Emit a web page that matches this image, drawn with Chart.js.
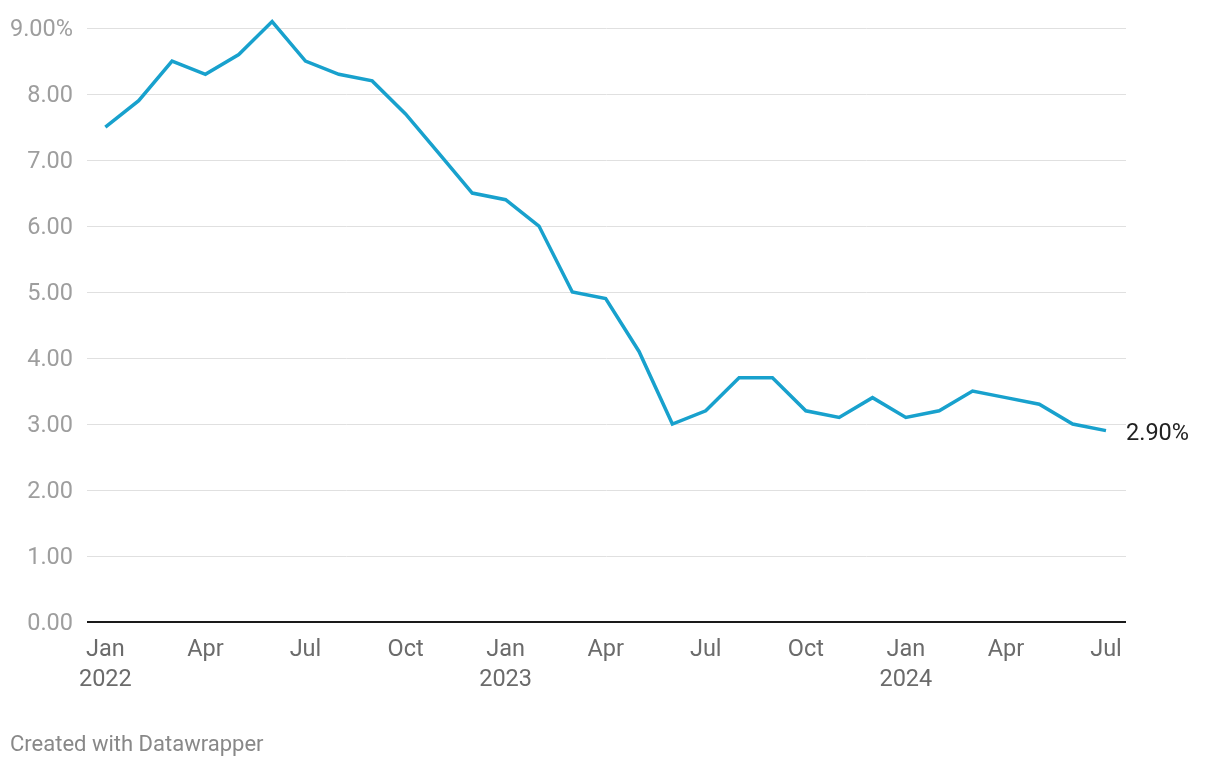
<!DOCTYPE html>
<html lang="en">
<head>
    <meta charset="UTF-8">
    <title>Inflation</title>
    <style>
        body { margin: 0; background: #fff; }
        .wrap { position: relative; width: 1220px; height: 768px; }
        .credit {
            position: absolute;
            left: 10px;
            top: 731px;
            font: 22px Roboto, sans-serif;
            color: #888;
        }
    </style>
</head>
<body>
    <div class="wrap">
        <canvas id="chart" width="1220" height="768"></canvas>
        <div class="credit">Created with Datawrapper</div>
    </div>
    <script src="https://cdn.jsdelivr.net/npm/chart.js"></script>
    <script>
        // monthly values, Jan 2022 - Jul 2024
        const months = [
            'Jan 2022', 'Feb 2022', 'Mar 2022', 'Apr 2022', 'May 2022', 'Jun 2022',
            'Jul 2022', 'Aug 2022', 'Sep 2022', 'Oct 2022', 'Nov 2022', 'Dec 2022',
            'Jan 2023', 'Feb 2023', 'Mar 2023', 'Apr 2023', 'May 2023', 'Jun 2023',
            'Jul 2023', 'Aug 2023', 'Sep 2023', 'Oct 2023', 'Nov 2023', 'Dec 2023',
            'Jan 2024', 'Feb 2024', 'Mar 2024', 'Apr 2024', 'May 2024', 'Jun 2024',
            'Jul 2024'
        ];
        const inflation = [
            7.5, 7.9, 8.5, 8.3, 8.6, 9.1, 8.5, 8.3, 8.2, 7.7, 7.1, 6.5,
            6.4, 6.0, 5.0, 4.9, 4.1, 3.0, 3.2, 3.7, 3.7, 3.2, 3.1, 3.4,
            3.1, 3.2, 3.5, 3.4, 3.3, 3.0, 2.9
        ];
        const xTickPos = [0, 3, 6, 9, 12, 15, 18, 21, 24, 27, 30];
        const xTickLabels = [
            ['Jan', '2022'], 'Apr', 'Jul', 'Oct',
            ['Jan', '2023'], 'Apr', 'Jul', 'Oct',
            ['Jan', '2024'], 'Apr', 'Jul'
        ];
        const yTicks = [0, 1, 2, 3, 4, 5, 6, 7, 8, 9];

        // label at the end of the line
        const endLabel = {
            id: 'endLabel',
            afterDatasetsDraw(chart) {
                const meta = chart.getDatasetMeta(0);
                const last = meta.data.length - 1;
                const pt = meta.data[last];
                const c = chart.ctx;
                c.save();
                c.font = '23.5px Roboto, sans-serif';
                c.fillStyle = '#222';
                c.textBaseline = 'middle';
                c.fillText(inflation[last].toFixed(2) + '%', pt.x + 20, pt.y + 3);
                c.restore();
            }
        };

        new Chart(document.getElementById('chart'), {
            type: 'line',
            data: {
                datasets: [{
                    label: 'Inflation',
                    data: inflation.map((v, i) => ({ x: i, y: v })),
                    borderColor: '#18a1cd',
                    borderWidth: 3.5,
                    pointRadius: 0,
                    tension: 0,
                    clip: false
                }]
            },
            options: {
                responsive: false,
                animation: false,
                layout: { padding: { top: 28, right: 94, bottom: 56, left: 0 } },
                plugins: {
                    legend: { display: false },
                    tooltip: { enabled: false }
                },
                scales: {
                    x: {
                        type: 'linear',
                        min: -0.55,
                        max: 30.6,
                        afterBuildTicks: s => { s.ticks = xTickPos.map(v => ({ value: v })); },
                        afterFit: s => { s.height = 90; },
                        grid: { display: false },
                        border: { display: false },
                        ticks: {
                            autoSkip: false,
                            maxRotation: 0,
                            padding: 5,
                            color: '#6b6b6b',
                            font: { family: 'Roboto', size: 23.5, lineHeight: 1.28 },
                            callback: v => xTickLabels[xTickPos.indexOf(v)]
                        }
                    },
                    y: {
                        min: 0,
                        max: 9,
                        afterBuildTicks: s => { s.ticks = yTicks.map(v => ({ value: v })); },
                        afterFit: s => { s.width = 87; },
                        border: { display: false },
                        grid: {
                            drawTicks: false,
                            color: c => (c.tick && c.tick.value === 0) ? '#1a1a1a' : '#e0e0e0',
                            lineWidth: c => (c.tick && c.tick.value === 0) ? 2 : 1
                        },
                        ticks: {
                            padding: 14,
                            labelOffset: 2,
                            color: '#9e9e9e',
                            font: { family: 'Roboto', size: 23.5 },
                            callback: v => v === 9 ? v.toFixed(2) + '%' : v.toFixed(2)
                        }
                    }
                }
            },
            plugins: [endLabel]
        });
    </script>
</body>
</html>
